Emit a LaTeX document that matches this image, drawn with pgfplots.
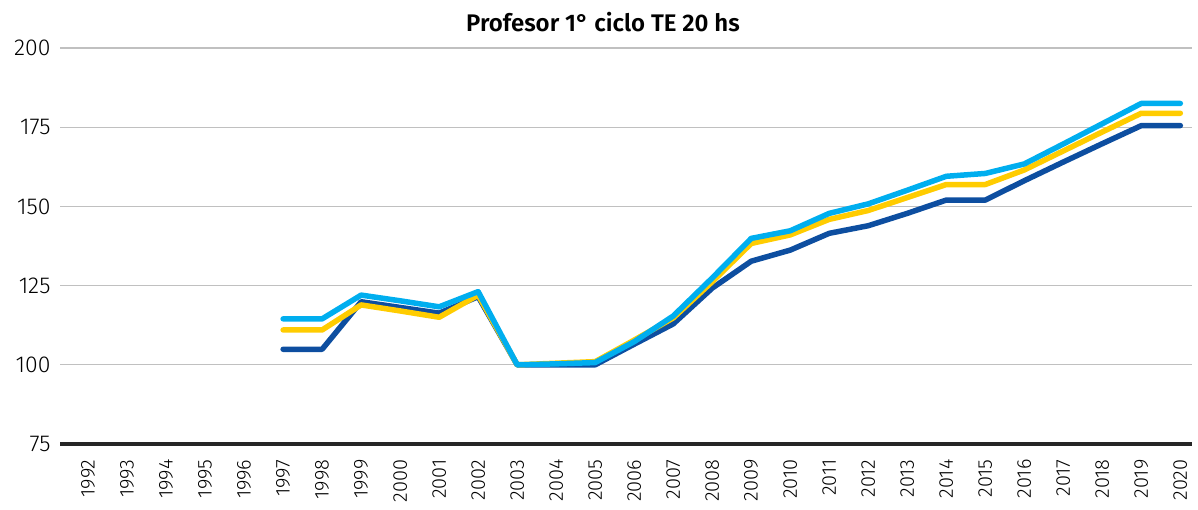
\documentclass[border=0pt]{standalone}
\usepackage{pgfplots}
\pgfplotsset{compat=1.18}
\usepackage{fontspec}
\setmainfont{Fira Sans}[UprightFont=* Light, BoldFont=* SemiBold]
\definecolor{navy}{HTML}{0D4EA0}
\definecolor{lblue}{HTML}{00AEEF}
\definecolor{yell}{HTML}{FFCC00}
\definecolor{gridc}{HTML}{C0C0C0}
\begin{document}
\begin{tikzpicture}
\path[use as bounding box] (0,0) rectangle (1198pt,510pt);
\begin{axis}[
  at={(60pt,66pt)}, anchor=south west,
  scale only axis, width=1132pt, height=396pt,
  xmin=1991.28, xmax=2020.3, ymin=75, ymax=200,
  xtick={1992,...,2020}, ytick={75,100,125,150,175,200},
  axis line style={draw=none}, tick style={draw=none},
  ymajorgrids, grid style={gridc, line width=1.2pt},
  /pgf/number format/1000 sep={},
  /pgf/number format/assume math mode=true,
  xticklabel style={rotate=90, anchor=east, font=\fontsize{20}{20}\selectfont, xshift=-12pt},
  yticklabel style={font=\fontsize{23}{23}\selectfont, xshift=-6pt},
  clip=false,
]
\draw[black!85, line width=4pt] (axis cs:1991.28,75) -- (axis cs:2020.3,75);
\addplot[navy, line width=5.5pt, line cap=round, line join=round] coordinates {
(1997,104.9)(1998,104.9)(1999,119.9)(2000,118.1)(2001,116.3)(2002,121.5)(2003,100)(2004,100)(2005,100)(2006,106.5)(2007,112.9)(2008,124.2)(2009,132.7)(2010,136.2)(2011,141.5)(2012,143.9)(2013,147.8)(2014,152)(2015,152)(2016,158.1)(2017,164)(2018,169.8)(2019,175.5)(2020,175.5)};
\addplot[yell, line width=5.5pt, line cap=round, line join=round] coordinates {
(1997,111.0)(1998,111.0)(1999,118.9)(2000,117)(2001,115.0)(2002,122)(2003,100)(2004,100.5)(2005,101)(2006,107.8)(2007,114.8)(2008,126.2)(2009,138.3)(2010,141)(2011,145.9)(2012,148.7)(2013,152.8)(2014,156.9)(2015,156.9)(2016,161.5)(2017,167.5)(2018,173.5)(2019,179.4)(2020,179.4)};
\addplot[lblue, line width=5.5pt, line cap=round, line join=round] coordinates {
(1997,114.5)(1998,114.5)(1999,122.0)(2000,120.2)(2001,118.3)(2002,123.1)(2003,100)(2004,100.3)(2005,100.7)(2006,107.3)(2007,115.4)(2008,127.4)(2009,139.9)(2010,142.3)(2011,147.8)(2012,150.8)(2013,155.1)(2014,159.5)(2015,160.4)(2016,163.4)(2017,169.7)(2018,176.1)(2019,182.5)(2020,182.5)};
\end{axis}
\node[font=\bfseries\fontsize{24}{24}\selectfont] at (603pt,488pt) {Profesor 1° ciclo TE 20 hs};
\end{tikzpicture}
\end{document}
